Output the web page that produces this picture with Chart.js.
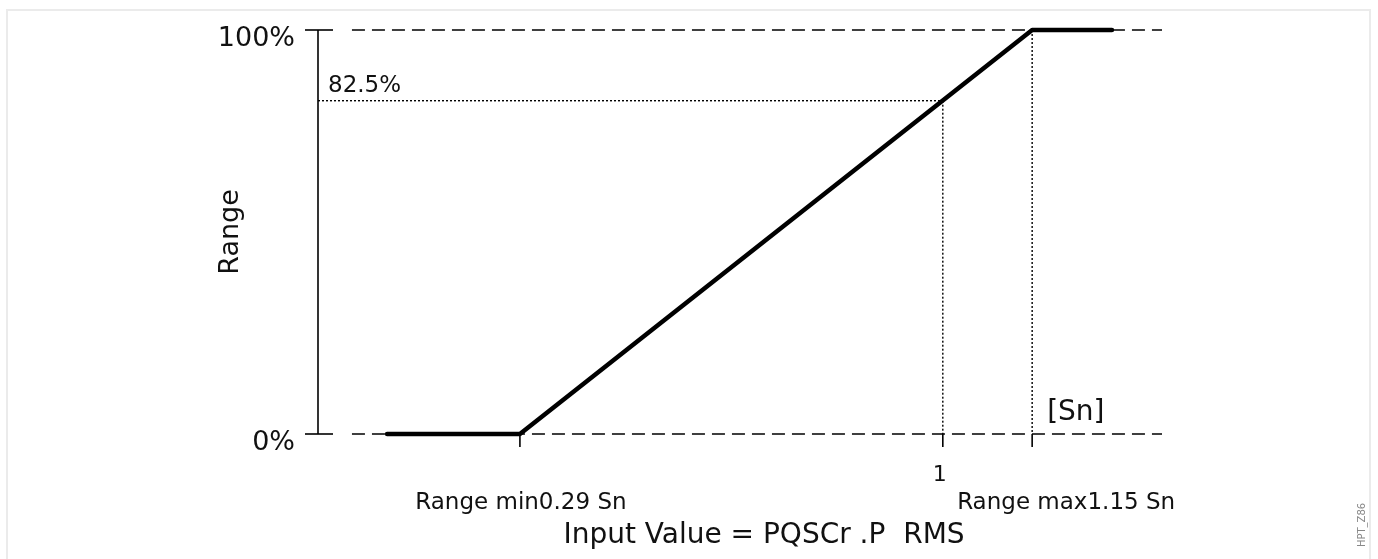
<!DOCTYPE html>
<html>
<head>
<meta charset="utf-8">
<script src="https://cdn.jsdelivr.net/npm/chart.js@4.4.1/dist/chart.umd.min.js"></script>
<style>
  html, body { margin: 0; padding: 0; background: #fff; }
  #wrap { position: relative; width: 1378px; height: 559px; }
  #frame { position: absolute; left: 6px; top: 9px; width: 1365px; height: 560px;
           border: 2px solid #ebebeb; border-bottom: none; box-sizing: border-box; }
  canvas { position: absolute; left: 0; top: 0; }
</style>
</head>
<body>
<div id="wrap">
  <div id="frame"></div>
  <canvas id="myChart" width="1378" height="559"></canvas>
</div>
<script>
// x in Sn, y in %
const curveX = [0.067, 0.29, 1.15, 1.284];
const curveY = [0, 0, 100, 100];
const xMin = -0.049; // where the y axis sits
const xMax = 1.368;  // end of dashed guide lines
const dashStart = 0.008;
const yTicks = [0, 100];
const yTickLabels = ["0%", "100%"];
const xTicks = [0.29, 1, 1.15];
const xTickLabels = ["Range min0.29 Sn", "1", "Range max1.15 Sn"];
const markX = 1;      // 1 Sn
const markY = 82.5;   // 82.5 %
const markLabel = "82.5%";
const unitLabel = "[Sn]";
const xTitle = "Input Value = PQSCr .P  RMS";
const yTitle = "Range";
const tag = "HPT_Z86";

const FONT = "'DejaVu Sans', sans-serif";

const pts = (xs, ys) => xs.map((x, i) => ({ x: x, y: ys[i] }));

// axis line, ticks and all the texts
const decor = {
  id: "decor",
  afterDatasetsDraw(chart) {
    const ctx = chart.ctx;
    const xs = chart.scales.x;
    const ys = chart.scales.y;
    const ax = xs.getPixelForValue(xMin);
    const y0 = ys.getPixelForValue(0);
    ctx.save();
    ctx.strokeStyle = "#000";
    ctx.fillStyle = "#111";
    ctx.lineWidth = 1.6;
    // y axis
    ctx.beginPath();
    ctx.moveTo(ax, ys.getPixelForValue(100));
    ctx.lineTo(ax, y0);
    ctx.stroke();
    // y ticks + labels
    ctx.font = "27px " + FONT;
    ctx.textAlign = "right";
    ctx.textBaseline = "alphabetic";
    yTicks.forEach((v, i) => {
      const py = ys.getPixelForValue(v);
      ctx.beginPath();
      ctx.moveTo(ax - 13, py);
      ctx.lineTo(ax + 15, py);
      ctx.stroke();
      ctx.fillText(yTickLabels[i], 295, py + 16);
    });
    // x ticks
    xTicks.forEach((v) => {
      const px = xs.getPixelForValue(v);
      ctx.beginPath();
      ctx.moveTo(px, y0);
      ctx.lineTo(px, y0 + 13);
      ctx.stroke();
    });
    ctx.textAlign = "center";
    ctx.font = "22px " + FONT;
    ctx.fillText(xTickLabels[1], xs.getPixelForValue(xTicks[1]) - 3, y0 + 47);
    ctx.font = "23px " + FONT;
    ctx.fillText(xTickLabels[0], xs.getPixelForValue(xTicks[0]) + 1, y0 + 75);
    ctx.fillText(xTickLabels[2], xs.getPixelForValue(xTicks[2]) + 34, y0 + 75);
    // 82.5% label
    ctx.textAlign = "left";
    ctx.font = "23px " + FONT;
    ctx.fillText(markLabel, ax + 10, ys.getPixelForValue(markY) - 9);
    // unit
    ctx.font = "28px " + FONT;
    ctx.fillText(unitLabel, xs.getPixelForValue(1.15) + 15, y0 - 14);
    // x title
    ctx.textAlign = "center";
    ctx.fillText(xTitle, 764, 543);
    // y title
    ctx.save();
    ctx.translate(238, 232);
    ctx.rotate(-Math.PI / 2);
    ctx.font = "27px " + FONT;
    ctx.fillText(yTitle, 0, 0);
    ctx.restore();
    // tag
    ctx.save();
    ctx.translate(1365, 525);
    ctx.rotate(-Math.PI / 2);
    ctx.font = "10px " + FONT;
    ctx.fillStyle = "#888";
    ctx.fillText(tag, 0, 0);
    ctx.restore();
    ctx.restore();
  },
};

const dotted = { borderColor: "#000", borderWidth: 1.4, borderDash: [2, 2] };
const dashed = { borderColor: "#000", borderWidth: 1.6, borderDash: [13, 7] };

const cht = document.getElementById("myChart");

const chart = new Chart(cht, {
  type: "line",
  data: {
    datasets: [
      { data: pts([dashStart, xMax], [100, 100]), ...dashed }, // 100% guide
      { data: pts([dashStart, xMax], [0, 0]), ...dashed }, // 0% guide
      { data: pts([xMin, markX], [markY, markY]), ...dotted },
      { data: pts([markX, markX], [markY, 0]), ...dotted },
      { data: pts([xTicks[2], xTicks[2]], [100, 0]), ...dotted },
      {
        // characteristic
        data: pts(curveX, curveY),
        borderColor: "#000",
        borderWidth: 4.5,
        borderCapStyle: "round",
        borderJoinStyle: "round",
      },
    ],
  },
  options: {
    responsive: false,
    animation: false,
    events: [],
    clip: false,
    layout: {
      padding: { left: 318, right: 1378 - 1162, top: 30, bottom: 559 - 434 },
    },
    elements: {
      point: { radius: 0 },
      line: { tension: 0 },
    },
    scales: {
      x: { type: "linear", min: xMin, max: xMax, display: false },
      y: { type: "linear", min: 0, max: 100, display: false },
    },
    plugins: {
      legend: { display: false },
      tooltip: { enabled: false },
    },
  },
  plugins: [decor],
});
</script>
</body>
</html>
